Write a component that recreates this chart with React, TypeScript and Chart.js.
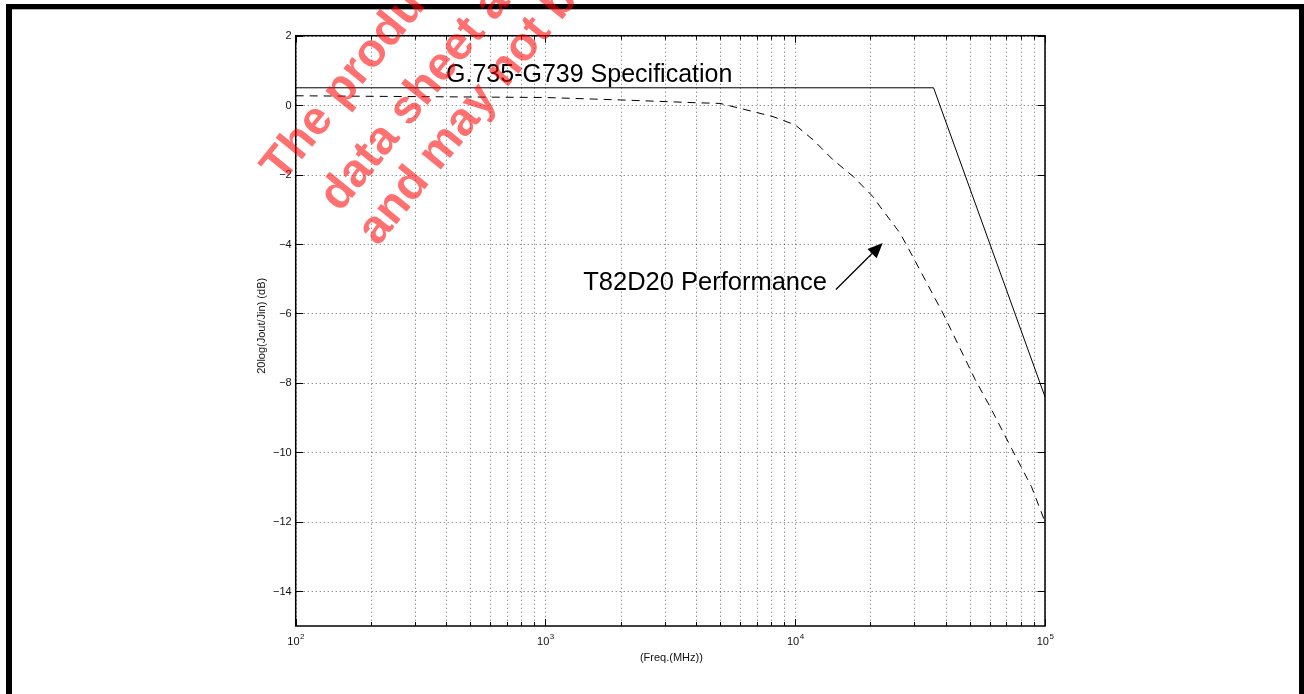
import React, { useEffect, useRef } from 'react';
import { Chart, registerables } from 'chart.js';

Chart.register(...registerables);

// ---- data ----
const specFreq = [100, 35800, 100000];
const specDb = [0.5, 0.5, -8.4];

const perfFreq = [100, 1000, 2000, 4000, 5000, 6000, 8150, 10000, 11800, 14200, 17100, 20500, 21900, 26300, 29600, 39000, 42900, 52500, 60200, 73500, 88300, 100000];
const perfDb = [0.27, 0.22, 0.15, 0.07, 0.05, -0.09, -0.33, -0.57, -1.0, -1.58, -2.06, -2.64, -2.93, -3.69, -4.37, -5.99, -6.6, -7.9, -8.68, -9.89, -10.99, -12.0];

const yTicks = [2, 0, -2, -4, -6, -8, -10, -12, -14];
const xMajorTicks = [100, 1000, 10000, 100000];
const xTickExponents = ['2', '3', '4', '5'];
const xMinorMultipliers = [2, 3, 4, 5, 6, 7, 8, 9];

const xTitle = '(Freq.(MHz))';
const yTitle = '20log(Jout/Jin) (dB)';

const specLabel = 'G.735-G739 Specification';
const specLabelAt = { f: 400, db: 0.67 };
const perfLabel = 'T82D20 Performance';
const perfLabelAt = { f: 1416, db: -5.31 };
const arrowFrom = { f: 14550, db: -5.31 };
const arrowTo = { f: 22400, db: -3.97 };

const watermarkLines = [
  'The products described in this',
  'data sheet are subject to change',
  'and may not be available',
];

const FONT = '"Liberation Sans", Arial, Helvetica, sans-serif';

export default function App() {
  const ref = useRef<HTMLCanvasElement>(null);

  useEffect(() => {
    document.body.style.margin = '0';
    const canvas = ref.current!;
    const W = 1304;
    const H = 694;
    const plotL = 295.7, plotT = 35.7, plotR = 1045, plotB = 626;

    const overlay = {
      id: 'matlabLook',
      beforeDraw(chart: any) {
        const ctx = chart.ctx;
        ctx.save();
        ctx.fillStyle = '#fff';
        ctx.fillRect(0, 0, W, H);
        ctx.fillStyle = '#000';
        ctx.fillRect(6, 4, W - 6, 5.3);
        ctx.fillRect(6, 4, 6, H - 4);
        ctx.fillRect(1299, 4, 5, H - 4);
        ctx.restore();
      },
      beforeDatasetsDraw(chart: any) {
        const ctx = chart.ctx;
        const xs = chart.scales.x, ys = chart.scales.y;
        const a = chart.chartArea;
        ctx.save();
        ctx.strokeStyle = 'rgba(0,0,0,0.6)';
        ctx.lineWidth = 1;
        ctx.setLineDash([1, 3]);
        const xs2: number[] = [];
        for (let i = 0; i < xMajorTicks.length; i++) {
          xs2.push(xMajorTicks[i]);
          if (i < xMajorTicks.length - 1) for (const m of xMinorMultipliers) xs2.push(m * xMajorTicks[i]);
        }
        for (const f of xs2) {
          const px = Math.round(xs.getPixelForValue(f)) + 0.5;
          ctx.beginPath();
          ctx.moveTo(px, a.top);
          ctx.lineTo(px, a.bottom);
          ctx.stroke();
        }
        for (const v of yTicks) {
          const py = Math.round(ys.getPixelForValue(v)) + 0.5;
          ctx.beginPath();
          ctx.moveTo(a.left, py);
          ctx.lineTo(a.right, py);
          ctx.stroke();
        }
        ctx.restore();
      },
      afterDatasetsDraw(chart: any) {
        const ctx = chart.ctx;
        const xs = chart.scales.x, ys = chart.scales.y;
        const a = chart.chartArea;
        ctx.save();
        ctx.setLineDash([]);
        ctx.strokeStyle = '#000';
        ctx.lineWidth = 1.5;
        ctx.strokeRect(a.left, a.top, a.right - a.left, a.bottom - a.top);
        ctx.lineWidth = 1;
        for (let i = 0; i < xMajorTicks.length; i++) {
          const px = Math.round(xs.getPixelForValue(xMajorTicks[i])) + 0.5;
          ctx.beginPath();
          ctx.moveTo(px, a.bottom); ctx.lineTo(px, a.bottom - 7);
          ctx.moveTo(px, a.top); ctx.lineTo(px, a.top + 7);
          ctx.stroke();
          if (i < xMajorTicks.length - 1) {
            for (const m of xMinorMultipliers) {
              const q = Math.round(xs.getPixelForValue(m * xMajorTicks[i])) + 0.5;
              ctx.beginPath();
              ctx.moveTo(q, a.bottom); ctx.lineTo(q, a.bottom - 4);
              ctx.moveTo(q, a.top); ctx.lineTo(q, a.top + 4);
              ctx.stroke();
            }
          }
        }
        for (const v of yTicks) {
          const py = Math.round(ys.getPixelForValue(v)) + 0.5;
          ctx.beginPath();
          ctx.moveTo(a.left, py); ctx.lineTo(a.left + 7.5, py);
          ctx.moveTo(a.right, py); ctx.lineTo(a.right - 7.5, py);
          ctx.stroke();
        }
        ctx.fillStyle = '#111';
        ctx.font = `11px ${FONT}`;
        ctx.textAlign = 'right';
        ctx.textBaseline = 'middle';
        for (const v of yTicks) {
          const py = ys.getPixelForValue(v);
          const s = v < 0 ? '\u2212' + Math.abs(v) : String(v);
          ctx.fillText(s, a.left - 4, py + 0.5);
        }
        ctx.textBaseline = 'alphabetic';
        ctx.textAlign = 'left';
        for (let i = 0; i < xMajorTicks.length; i++) {
          const px = xs.getPixelForValue(xMajorTicks[i]);
          ctx.font = `11px ${FONT}`;
          const wb = ctx.measureText('10').width;
          ctx.font = `8px ${FONT}`;
          const we = ctx.measureText(xTickExponents[i]).width;
          const x0 = px - (wb + we) / 2;
          ctx.font = `11px ${FONT}`;
          ctx.fillText('10', x0, a.bottom + 19);
          ctx.font = `8px ${FONT}`;
          ctx.fillText(xTickExponents[i], x0 + wb + 0.5, a.bottom + 13);
        }
        ctx.font = `11px ${FONT}`;
        ctx.textAlign = 'center';
        ctx.fillText(xTitle, (a.left + a.right) / 2 + 1, a.bottom + 35);
        ctx.save();
        ctx.translate(262, (a.top + a.bottom) / 2 - 5);
        ctx.rotate(-Math.PI / 2);
        ctx.textBaseline = 'middle';
        ctx.fillText(yTitle, 0, 0);
        ctx.restore();

        ctx.fillStyle = '#000';
        ctx.textAlign = 'left';
        ctx.textBaseline = 'alphabetic';
        ctx.font = `25px ${FONT}`;
        ctx.fillText(specLabel, xs.getPixelForValue(specLabelAt.f), ys.getPixelForValue(specLabelAt.db));
        ctx.font = `25.5px ${FONT}`;
        ctx.fillText(perfLabel, xs.getPixelForValue(perfLabelAt.f), ys.getPixelForValue(perfLabelAt.db));
        const ax0 = xs.getPixelForValue(arrowFrom.f), ay0 = ys.getPixelForValue(arrowFrom.db);
        const ax1 = xs.getPixelForValue(arrowTo.f), ay1 = ys.getPixelForValue(arrowTo.db);
        const ang = Math.atan2(ay1 - ay0, ax1 - ax0);
        const hl = 15, hw = 6.5;
        const bx = ax1 - hl * Math.cos(ang), by = ay1 - hl * Math.sin(ang);
        ctx.lineWidth = 1.3;
        ctx.beginPath();
        ctx.moveTo(ax0, ay0); ctx.lineTo(bx, by);
        ctx.stroke();
        ctx.beginPath();
        ctx.moveTo(ax1, ay1);
        ctx.lineTo(bx + hw * Math.sin(ang), by - hw * Math.cos(ang));
        ctx.lineTo(bx - hw * Math.sin(ang), by + hw * Math.cos(ang));
        ctx.closePath();
        ctx.fill();
        ctx.restore();
      },
      afterDraw(chart: any) {
        const ctx = chart.ctx;
        ctx.save();
        ctx.fillStyle = 'rgba(255,0,0,0.56)';
        ctx.font = `bold 47px ${FONT}`;
        ctx.textAlign = 'left';
        ctx.textBaseline = 'alphabetic';
        const starts = [[282, 184], [340, 213], [378, 247]];
        const rot = -51 * Math.PI / 180;
        for (let i = 0; i < watermarkLines.length; i++) {
          ctx.save();
          ctx.translate(starts[i][0], starts[i][1]);
          ctx.rotate(rot);
          ctx.fillText(watermarkLines[i], 0, 0);
          ctx.restore();
        }
        ctx.restore();
      },
    };

    const chart = new Chart(canvas, {
      type: 'line',
      data: {
        datasets: [
          {
            label: 'G.735-G739 Specification',
            data: specFreq.map((f, i) => ({ x: f, y: specDb[i] })),
            borderColor: '#000',
            borderWidth: 1,
            pointRadius: 0,
            tension: 0,
            fill: false,
          },
          {
            label: 'T82D20 Performance',
            data: perfFreq.map((f, i) => ({ x: f, y: perfDb[i] })),
            borderColor: '#000',
            borderWidth: 1,
            borderDash: [8, 6],
            pointRadius: 0,
            tension: 0,
            fill: false,
          },
        ],
      },
      options: {
        responsive: false,
        animation: false,
        layout: { padding: { left: plotL, top: plotT, right: W - plotR, bottom: H - plotB } },
        scales: {
          x: { type: 'logarithmic', min: 100, max: 100000, display: false },
          y: { type: 'linear', min: -15, max: 2, display: false },
        },
        plugins: { legend: { display: false }, tooltip: { enabled: false } },
      },
      plugins: [overlay],
    });
    return () => chart.destroy();
  }, []);

  return <canvas ref={ref} width={1304} height={694} style={{ display: 'block', width: 1304, height: 694 }} />;
}
